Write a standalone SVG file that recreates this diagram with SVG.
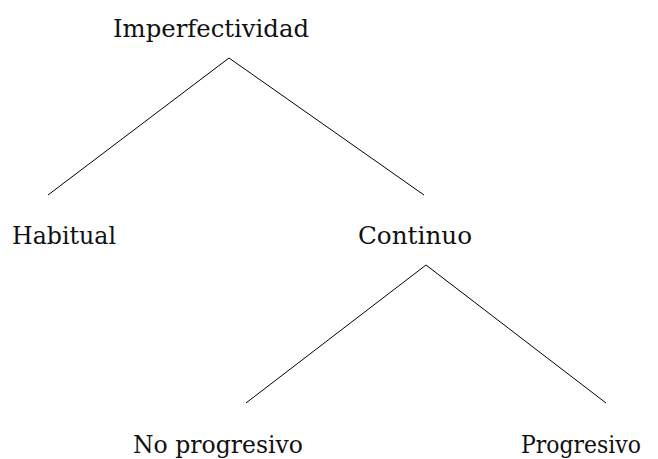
<svg xmlns="http://www.w3.org/2000/svg" width="658" height="459" viewBox="0 0 658 459">
<style>
text{font-family:"DejaVu Serif","Liberation Serif",serif;font-size:24.5px;fill:#111;}
line{stroke:#000;stroke-width:1;}
</style>
<rect width="658" height="459" fill="#fff"/>
<g id="connectors">
<line x1="229" y1="58" x2="48" y2="195"/>
<line x1="229" y1="58" x2="424" y2="195"/>
<line x1="426" y1="265" x2="246" y2="403"/>
<line x1="426" y1="265" x2="606" y2="403"/>
</g>
<g id="imperfectividad"><text x="113" y="37" textLength="196" lengthAdjust="spacingAndGlyphs">Imperfectividad</text></g>
<g id="habitual"><text x="12" y="244" textLength="104" lengthAdjust="spacingAndGlyphs">Habitual</text></g>
<g id="continuo"><text x="358" y="244" textLength="114" lengthAdjust="spacingAndGlyphs">Continuo</text></g>
<g id="no-progresivo"><text x="133" y="453" textLength="170" lengthAdjust="spacingAndGlyphs">No progresivo</text></g>
<g id="progresivo"><text x="521" y="453" textLength="120" lengthAdjust="spacingAndGlyphs">Progresivo</text></g>
</svg>
